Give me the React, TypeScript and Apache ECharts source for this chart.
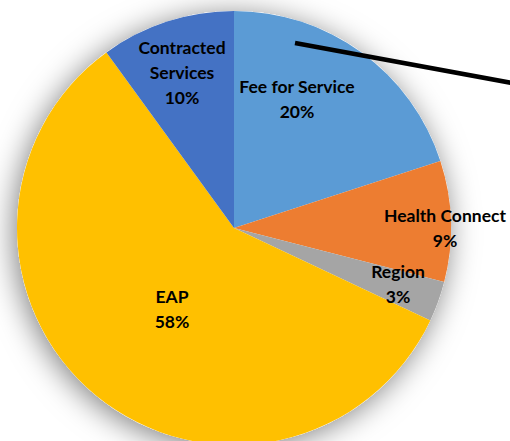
import React, { useEffect, useRef } from "react";
import * as echarts from "echarts";

const categories = ["Fee for Service", "Health Connect", "Region", "EAP", "Contracted Services"];
const values = [20, 9, 3, 58, 10];
const colors = ["#5B9BD5", "#ED7D31", "#A5A5A5", "#FFC000", "#4472C4"];
const labelLines = [
  ["Fee for Service"],
  ["Health Connect"],
  ["Region"],
  ["EAP"],
  ["Contracted", "Services"],
];
// label centre positions (layout)
const labelPos = [
  [297, 98.5],
  [445, 228],
  [398, 283.5],
  [172, 309],
  [182, 72.5],
];

export default function App() {
  const ref = useRef<HTMLDivElement>(null);
  useEffect(() => {
    document.body.style.margin = "0";
    const chart = echarts.init(ref.current!, null, { renderer: "svg" });
    const center = [234, 228];
    const radius = 217;
    chart.setOption({
      animation: false,
      backgroundColor: "#ffffff",
      series: [
        {
          type: "pie",
          silent: true,
          center,
          radius,
          label: { show: false },
          labelLine: { show: false },
          data: [{ value: 1, name: "bg" }],
          itemStyle: {
            color: "#ffffff",
            shadowBlur: 30,
            shadowColor: "rgba(0,0,0,0.5)",
            shadowOffsetX: -3,
            shadowOffsetY: 4,
          },
          z: 1,
        },
        {
          type: "pie",
          center,
          radius,
          startAngle: 90,
          clockwise: true,
          z: 2,
          data: categories.map((c, i) => ({
            name: c,
            value: values[i],
            itemStyle: { color: colors[i] },
          })),
          itemStyle: { borderWidth: 0 },
          label: {
            show: true,
            position: "inside",
            fontFamily: "Lato, 'Open Sans', sans-serif",
            fontWeight: "bold",
            fontSize: 17.5,
            lineHeight: 25,
            color: "#000000",
            align: "center",
            verticalAlign: "middle",
            formatter: (p: any) => labelLines[p.dataIndex].join("\n") + "\n" + values[p.dataIndex] + "%",
          },
          labelLine: { show: false },
          labelLayout: (p: any) => ({
            x: labelPos[p.dataIndex][0],
            y: labelPos[p.dataIndex][1],
            align: "center",
            verticalAlign: "middle",
          }),
        },
      ],
      graphic: [
        {
          type: "line",
          z: 100,
          shape: { x1: 295, y1: 43, x2: 512, y2: 83 },
          style: { stroke: "#000000", lineWidth: 4.5 },
        },
      ],
    });
    return () => chart.dispose();
  }, []);
  return <div ref={ref} style={{ width: 510, height: 441 }} />;
}
